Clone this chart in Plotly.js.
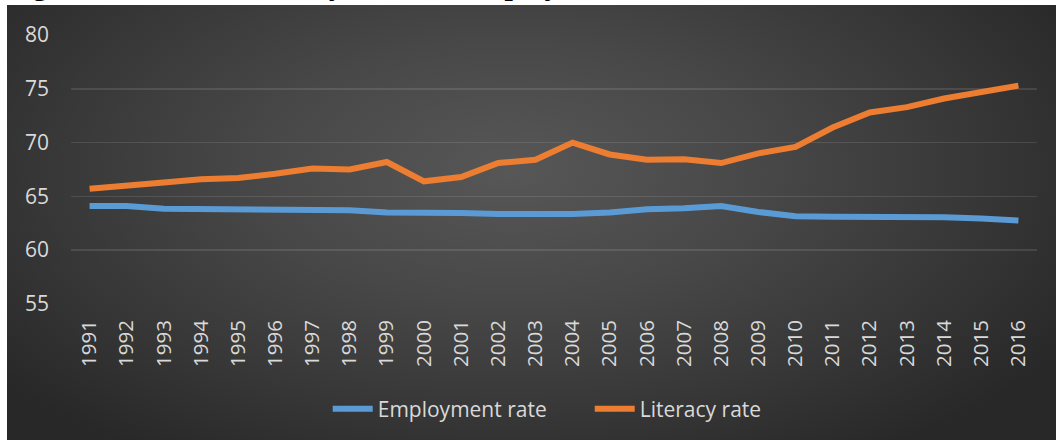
<!DOCTYPE html>
<html>
<head>
<meta charset="utf-8">
<script src="https://cdn.plot.ly/plotly-3.0.1.min.js"></script>
<style>
  html, body { margin: 0; padding: 0; background: #ffffff; width: 1056px; height: 440px; overflow: hidden; }
  #caption { position: absolute; left: 6px; top: -30px; font-family: "Liberation Serif", "DejaVu Serif", serif; font-weight: bold; font-size: 30px; line-height: 30px; color: #000; white-space: nowrap; }
  #wrap { position: absolute; left: 7px; top: 5px; width: 1049px; height: 435px;
          background: radial-gradient(ellipse 62% 78% at 48% 38%, #575757 0%, #484848 38%, #373737 72%, #282828 100%); }
  #chart { width: 1049px; height: 435px; }
</style>
</head>
<body>
<div id="caption">Figure 1: Trend of literacy rate and employment rate</div>
<div id="wrap"><div id="chart"></div></div>
<script>
const years = ["1991","1992","1993","1994","1995","1996","1997","1998","1999","2000","2001","2002","2003","2004","2005","2006","2007","2008","2009","2010","2011","2012","2013","2014","2015","2016"];
const employmentRate = [64.1,64.1,63.85,63.8,63.75,63.75,63.7,63.7,63.5,63.5,63.45,63.35,63.3,63.35,63.5,63.8,63.9,64.1,63.55,63.15,63.1,63.1,63.1,63.05,62.95,62.75];
const literacyRate = [65.7,65.95,66.3,66.6,66.7,67.1,67.6,67.5,68.2,66.4,66.8,68.1,68.4,70.0,68.9,68.4,68.45,68.1,69.0,69.6,71.4,72.8,73.3,74.1,74.7,75.3];
const yTicks = [55,60,65,70,75,80];

const traces = [
  {x: years, y: employmentRate, type: "scatter", mode: "lines", name: "Employment rate",
   line: {color: "#5B9BD5", width: 6}},
  {x: years, y: literacyRate, type: "scatter", mode: "lines", name: "Literacy rate",
   line: {color: "#ED7D31", width: 6}}
];

const layout = {
  width: 1049, height: 435,
  paper_bgcolor: "rgba(0,0,0,0)", plot_bgcolor: "rgba(0,0,0,0)",
  margin: {l: 64, r: 19, t: 30, b: 136},
  font: {family: "Open Sans, Noto Sans, sans-serif", color: "#d9d9d9", size: 20},
  showlegend: true,
  legend: {orientation: "h", xref: "container", yref: "container", x: 0.5555, xanchor: "center",
           y: 0.071, yanchor: "middle", itemwidth: 40, entrywidth: 207,
           font: {size: 21, color: "#d9d9d9"}, bgcolor: "rgba(0,0,0,0)"},
  xaxis: {type: "category", range: [-0.5, 25.5], tickangle: -90, showgrid: false, zeroline: false, showline: false,
          ticks: "", ticklabelstandoff: 11, tickfont: {size: 20.5, color: "#d9d9d9"}, automargin: false},
  yaxis: {range: [54.99, 80.01], tickvals: yTicks, ticktext: yTicks.map(String),
          showgrid: true, gridcolor: "rgba(255,255,255,0.11)", gridwidth: 1.3,
          zeroline: false, showline: false, ticks: "", ticklabelstandoff: 21,
          tickfont: {size: 21, color: "#d9d9d9"}, automargin: false}
};

Plotly.newPlot("chart", traces, layout, {displayModeBar: false, staticPlot: true});
</script>
</body>
</html>
